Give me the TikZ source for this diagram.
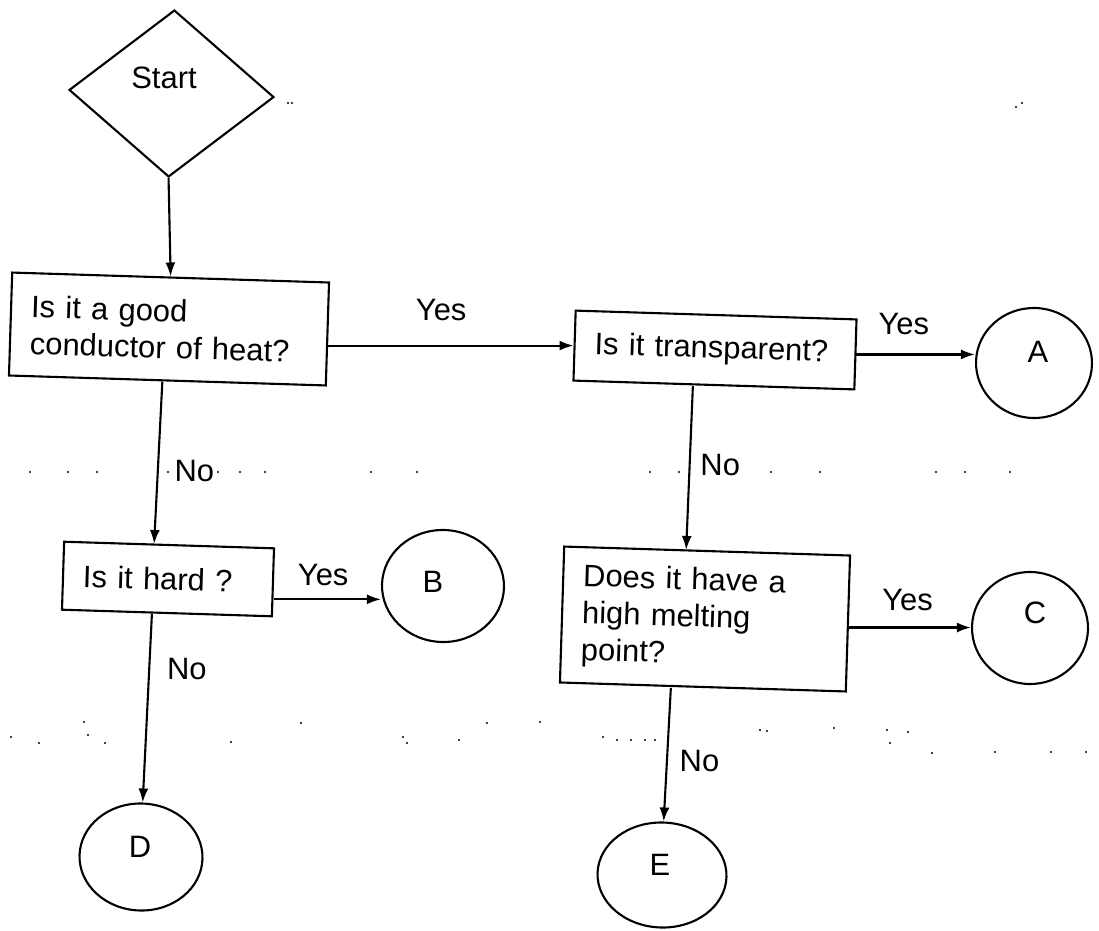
\documentclass[tikz,border=0pt]{standalone}
\usepackage{fontspec}
\setmainfont{Liberation Sans}
\usetikzlibrary{shapes.geometric,arrows.meta}
\newcommand\pu{0.02cm}
\begin{document}
\begin{tikzpicture}[x=\pu, y=-\pu,
  every node/.style={font=\fontsize{17.6}{21}\selectfont},
  tilt/.style={rotate=-1.8},
  box/.style={draw, line width=1.2pt, tilt, align=left, inner xsep=20*\pu, inner ysep=0pt},
  endpt/.style={draw, ellipse, line width=1.2pt, tilt, inner sep=0pt},
  arr/.style={line width=1.2pt, -{Latex[length=14*\pu, width=10*\pu]}},
  lbl/.style={inner sep=1pt},
  speck/.style={fill=black, draw=none}
]
\useasboundingbox (0,0) rectangle (1099,930);

% start symbol
\node[draw, diamond, line width=1.2pt, rotate=-2, minimum width=205*\pu,
      minimum height=167*\pu, inner sep=0pt] (start) at (171.5,93.5) {};
\node (starttxt) at (164,78) {Start};

% question boxes
\node[box, text width=277*\pu, minimum height=103*\pu] (b1) at (169,329)
  {Is it a good\\conductor of heat?};
\node[box, text width=241*\pu, minimum height=70*\pu] (b2) at (715,350)
  {Is it transparent?};
\node[box, text width=170*\pu, minimum height=68*\pu] (b3) at (168,579)
  {Is it hard ?};
\node[box, text width=246*\pu, minimum height=136*\pu] (b4) at (705,619)
  {Does it have a\\high melting\\point?};

% outcomes
\node[endpt, minimum width=116*\pu, minimum height=110*\pu] (A) at (1034,363) {};
\node[endpt, minimum width=122*\pu, minimum height=112*\pu] (B) at (443,586) {};
\node[endpt, minimum width=116*\pu, minimum height=112*\pu] (C) at (1030,628) {};
\node[endpt, minimum width=123*\pu, minimum height=107*\pu] (D) at (141,857) {};
\node[endpt, minimum width=129*\pu, minimum height=105*\pu] (E) at (662,875) {};
\node (Atxt) at (1038,352) {A};
\node (Btxt) at (433,582) {B};
\node (Ctxt) at (1035,613) {C};
\node (Dtxt) at (140,847) {D};
\node (Etxt) at (660,865) {E};

% connectors
\draw[arr] (start.south) -- (b1.north);
\draw[arr] (b1.east |- b2.west) -- (b2.west)
  node[lbl, pos=0.46, above=22*\pu] (y1) {Yes};
\draw[arr] (b2.east) -- (b2.east -| A.west)
  node[lbl, pos=0.4, above=17*\pu] (y2) {Yes};
\draw[arr] ([xshift=-5*\pu]b1.south) -- ([xshift=-15*\pu]b3.north)
  node[lbl, pos=0.55, right=14*\pu] (n1) {No};
\coordinate (hb) at ([yshift=-17*\pu]b3.east);
\draw[arr] (hb) -- (hb -| B.west)
  node[lbl, pos=0.46, above=11*\pu] (y3) {Yes};
\draw[arr] ([xshift=-15*\pu]b3.south) -- (D.north)
  node[lbl, pos=0.29, right=15*\pu] (n2) {No};
\draw[arr] ([xshift=-21*\pu]b2.south) -- ([xshift=-21*\pu]b4.north)
  node[lbl, pos=0.48, right=8*\pu] (n3) {No};
\coordinate (hc) at ([yshift=-4*\pu]b4.east);
\draw[arr] (hc) -- (hc -| C.west)
  node[lbl, pos=0.48, above=14*\pu] (y4) {Yes};
\draw[arr] ([xshift=-32*\pu]b4.south) -- (E.north)
  node[lbl, pos=0.55, right=10*\pu] (n4) {No};

% specks along the page
\foreach \x in {30,68,97,168,218,240,265,371,417,650,679,771,820,936,965,1010}
  \fill[speck] (\x,472) circle[radius=1.2*\pu];
\foreach \x/\y in {11/737,39/743,84/722,88/735,105/743,231/742,301/723,403/737,
  407/743,459/740,487/723,540/722,603/737,617/740,631/740,645/740,655/740,
  760/730,767/731,834/728,887/730,908/732,890/743,932/753,995/752,1051/752,
  1086/752,288/103,292/103,1016/107,1022/103}
  \fill[speck] (\x,\y) circle[radius=1.2*\pu];
\end{tikzpicture}
\end{document}
